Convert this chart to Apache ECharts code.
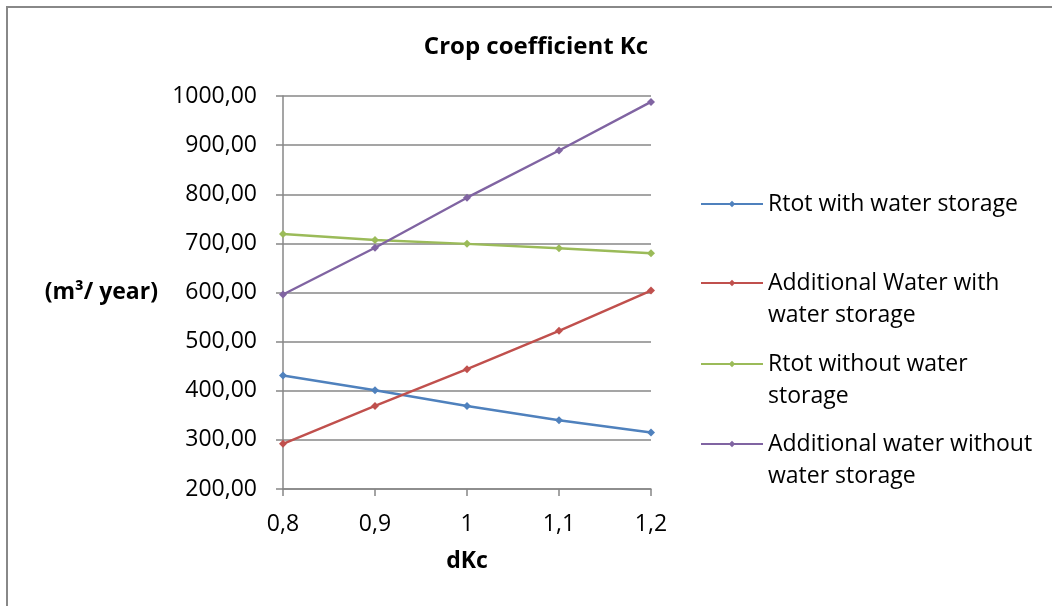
<!DOCTYPE html>
<html>
<head>
<meta charset="utf-8">
<script src="https://cdn.jsdelivr.net/npm/echarts@6/dist/echarts.min.js"></script>
<style>html,body{margin:0;padding:0;background:#fff;}#c{width:1052px;height:606px;}</style>
</head>
<body>
<div id="c"></div>
<script>
var categories = ['0,8', '0,9', '1', '1,1', '1,2'];
var seriesNames = ['Rtot with water storage', 'Additional Water with water storage', 'Rtot without water storage', 'Additional water without water storage'];
var legendLabels = ['Rtot with water storage', 'Additional Water with\nwater storage', 'Rtot without water\nstorage', 'Additional water without\nwater storage'];
var rtotWith = [431, 401, 369, 340, 315];
var addWith = [292, 369, 444, 522, 604];
var rtotWithout = [719, 707, 699, 690, 680];
var addWithout = [596, 691, 793, 889, 988];
var colors = ['#4F81BD', '#C0504D', '#9BBB59', '#8064A2'];
var values = [rtotWith, addWith, rtotWithout, addWithout];

var FONT = 'Open Sans';
var chart = echarts.init(document.getElementById('c'));
var legendTops = [188, 235, 316, 396];
var legends = seriesNames.map(function (n, i) {
  var twoLine = legendLabels[i].indexOf('\n') >= 0;
  return {
    orient: 'vertical', left: 700, top: legendTops[i], padding: 0,
    itemWidth: 62, itemHeight: 8, data: [n],
    selectedMode: false,
    formatter: function () { return (twoLine ? ' \n' : '') + legendLabels[i]; },
    textStyle: { fontFamily: FONT, fontSize: 23, color: '#000', lineHeight: 32 }
  };
});
var series = seriesNames.map(function (n, i) {
  return {
    name: n, type: 'line', data: values[i],
    symbol: 'diamond', symbolSize: 8,
    itemStyle: { color: colors[i] },
    lineStyle: { color: colors[i], width: 2.4 }
  };
});
chart.setOption({
  animation: false,
  title: {
    text: 'Crop coefficient Kc', left: 536, top: 35, padding: 0, textAlign: 'center',
    textStyle: { fontFamily: FONT, fontSize: 24, fontWeight: 'bold', color: '#000' }
  },
  legend: legends,
  grid: { left: 283, right: 401, top: 96, bottom: 117 },
  xAxis: {
    type: 'category', data: categories, boundaryGap: false,
    name: 'dKc', nameLocation: 'middle', nameGap: 61,
    nameTextStyle: { fontFamily: FONT, fontSize: 23, fontWeight: 'bold', color: '#000' },
    axisLine: { lineStyle: { color: '#878787', width: 1.5 } },
    axisTick: { length: 7, lineStyle: { color: '#878787', width: 1.5 } },
    axisLabel: { fontFamily: FONT, fontSize: 23, color: '#000', margin: 24 }
  },
  yAxis: {
    type: 'value', min: 200, max: 1000, interval: 100,
    name: '(m³/ year)', nameLocation: 'middle', nameRotate: 0, nameGap: 125,
    nameTextStyle: { fontFamily: FONT, fontSize: 23, fontWeight: 'bold', color: '#000' },
    axisLine: { show: true, lineStyle: { color: '#878787', width: 1.5 } },
    axisTick: { show: true, length: 7, lineStyle: { color: '#878787', width: 1.5 } },
    splitLine: { lineStyle: { color: '#878787', width: 1.5 } },
    axisLabel: {
      fontFamily: FONT, fontSize: 23, color: '#000', margin: 26,
      formatter: function (v) { return v.toFixed(2).replace('.', ','); }
    }
  },
  graphic: [{
    type: 'rect', shape: { x: 7, y: 7, width: 1100, height: 700 }, silent: true,
    style: { fill: 'none', stroke: '#888', lineWidth: 2 }
  }],
  series: series
});
</script>
</body>
</html>
